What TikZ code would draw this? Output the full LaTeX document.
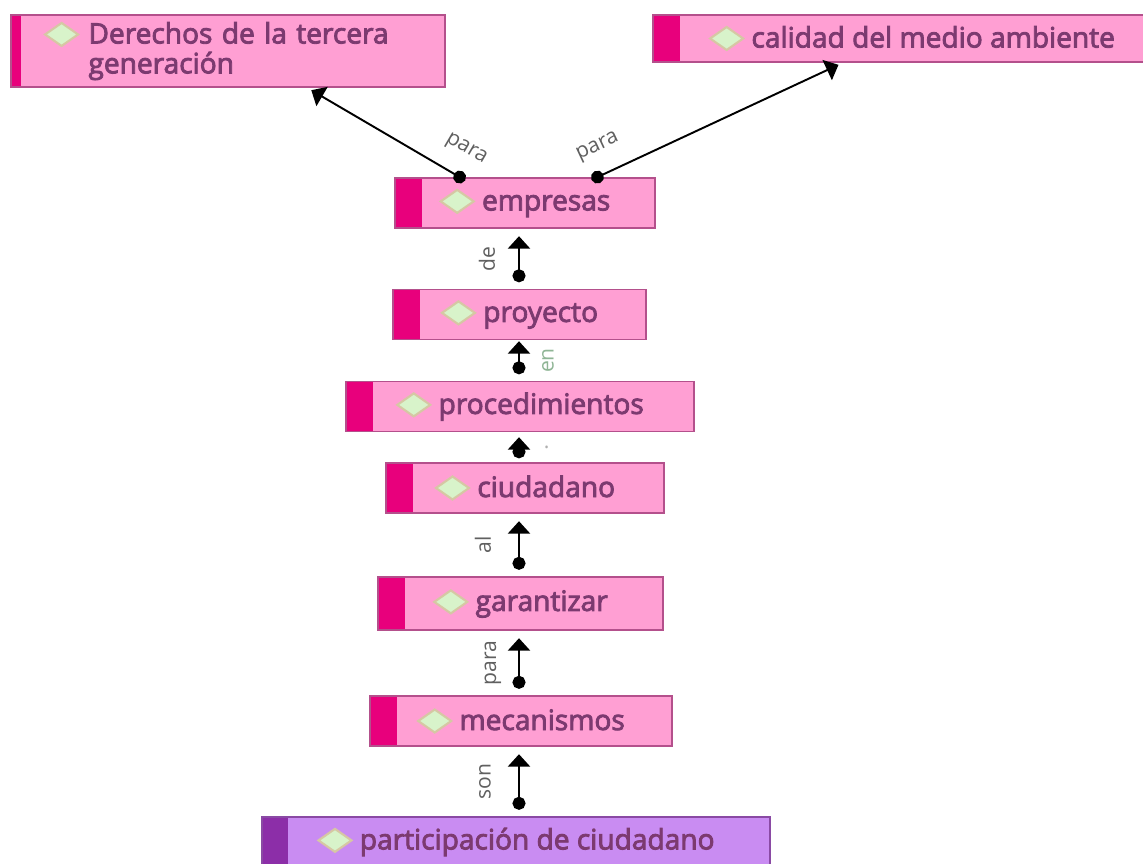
\documentclass[tikz,border=0pt]{standalone}
\usepackage{fontspec}
\setsansfont{Open Sans}
\newfontfamily\conceptfont[FakeBold=3]{Open Sans}
\usetikzlibrary{positioning,arrows.meta}

\definecolor{boxfill}{HTML}{FF9FD3}
\definecolor{boxbar}{HTML}{E8007C}
\definecolor{boxline}{HTML}{B4508C}
\definecolor{boxtext}{HTML}{7C3A70}
\definecolor{rootfill}{HTML}{C98CF2}
\definecolor{rootbar}{HTML}{8C2EA8}
\definecolor{rootline}{HTML}{8A4AA4}
\definecolor{gemfill}{HTML}{D8F3CA}
\definecolor{gemline}{HTML}{D6C7A4}
\definecolor{linktext}{HTML}{606060}
\definecolor{entext}{HTML}{8FB595}

% small diamond icon in front of every concept
\newcommand{\gem}{\tikz[baseline=-0.6ex]\draw[draw=gemline, fill=gemfill, line width=1.2pt]
  (0,0.23cm) -- (0.33cm,0) -- (0,-0.23cm) -- (-0.33cm,0) -- cycle;}

\begin{document}
\begin{tikzpicture}[x=0.02cm, y=-0.02cm,
    concept/.style={rectangle, draw=boxline, fill=boxfill, text=boxtext, line width=0.8pt,
        font=\conceptfont\fontsize{16}{17}\selectfont, minimum height=1cm, inner sep=0pt,
        path picture={\fill[boxbar] (path picture bounding box.south west)
            rectangle ([xshift=0.54cm]path picture bounding box.north west);}},
    root/.style={concept, draw=rootline, fill=rootfill,
        path picture={\fill[rootbar] (path picture bounding box.south west)
            rectangle ([xshift=0.52cm]path picture bounding box.north west);}},
    link/.style={{Circle[length=0.26cm]}-{Triangle[width=0.44cm, length=0.25cm]},
        line width=1.5pt, shorten <=0.13cm, shorten >=0.15cm},
    slant/.style={link, line width=1.1pt, shorten <=-0.12cm, shorten >=0.1cm},
    lbl/.style={text=linktext, font=\sffamily\fontsize{12}{14}\selectfont, inner sep=2pt}
]

\useasboundingbox (0,0) rectangle (1143,864);
\clip (0,0) rectangle (1143,864);
\fill[white] (0,0) rectangle (1143,864);

% concepts
\node [concept, minimum width=8.68cm, minimum height=1.44cm, text width=7.36cm, align=left,
    path picture={\fill[boxbar] (path picture bounding box.south west)
        rectangle ([xshift=0.2cm]path picture bounding box.north west);}]
    (Derechos) at (228,51) {\gem\ Derechos de la tercera\\\hphantom{\gem\ }generación};
\node [concept, minimum width=10.36cm, minimum height=0.94cm] (Calidad) at (912,38.5)
    {\gem\ calidad del medio ambiente};
\node [concept, minimum width=5.2cm] (Empresas) at (525,203) {\gem\ empresas};
\node [concept, minimum width=5.06cm] (Proyecto) at (519.5,314.5) {\gem\ proyecto};
\node [concept, minimum width=6.96cm] (Procedimientos) at (520,406.5) {\gem\ procedimientos};
\node [concept, minimum width=5.56cm] (Ciudadano) at (525,488) {\gem\ ciudadano};
\node [concept, minimum width=5.7cm, minimum height=1.06cm] (Garantizar) at (520.5,603.5) {\gem\ garantizar};
\node [concept, minimum width=6.04cm] (Mecanismos) at (521,721) {\gem\ mecanismos};
\node [root, minimum width=10.16cm] (Participacion) at (516,842) {\gem\ participación de ciudadano};

\coordinate (spine) at (519,0);

% links
\draw [slant] ([xshift=-1.3cm]Empresas.north) -- node [lbl, sloped, above=0.28cm, pos=0.05] {para}
    ([xshift=1.58cm]Derechos.south);
\draw [slant] ([xshift=1.44cm]Empresas.north) -- node [lbl, sloped, above=0.28cm, pos=0.05] {para}
    ([xshift=-1.38cm]Calidad.south);
\draw [link] (Proyecto.north -| spine) -- node [lbl, xshift=-0.64cm, rotate=90] {de}
    (Empresas.south -| spine);
\draw [link, shorten >=0.02cm] (Procedimientos.north -| spine) -- node [lbl, text=entext, xshift=0.58cm, rotate=90] {en}
    (Proyecto.south -| spine);
\draw [link, shorten <=0.08cm, shorten >=0.1cm] (Ciudadano.north -| spine) -- node [lbl, text=linktext!50, right=0.4cm] {.}
    (Procedimientos.south -| spine);
\draw [link] (Garantizar.north -| spine) -- node [lbl, xshift=-0.72cm, rotate=90] {al}
    (Ciudadano.south -| spine);
\draw [link] (Mecanismos.north -| spine) -- node [lbl, xshift=-0.52cm, rotate=90] {para}
    (Garantizar.south -| spine);
\draw [link] (Participacion.north -| spine) -- node [lbl, xshift=-0.68cm, rotate=90] {son}
    (Mecanismos.south -| spine);

\end{tikzpicture}
\end{document}
